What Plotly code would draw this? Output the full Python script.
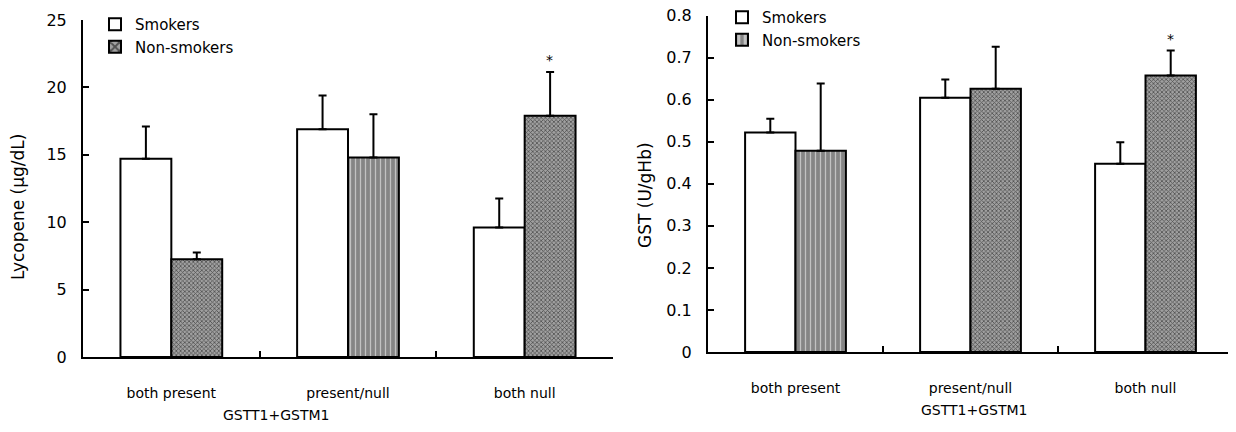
import plotly.graph_objects as go

categories = ["both present", "present/null", "both null"]
series_names = ["Smokers", "Non-smokers"]

lyc_smokers = [14.7, 16.9, 9.6]
lyc_smokers_err = [2.4, 2.5, 2.15]
lyc_non = [7.25, 14.8, 17.9]
lyc_non_err = [0.5, 3.2, 3.25]

gst_smokers = [0.522, 0.605, 0.448]
gst_smokers_err = [0.033, 0.043, 0.051]
gst_non = [0.479, 0.626, 0.658]
gst_non_err = [0.16, 0.10, 0.059]

left_yticks = [0, 5, 10, 15, 20, 25]
right_yticks = [0, 0.1, 0.2, 0.3, 0.4, 0.5, 0.6, 0.7, 0.8]

FONT = "DejaVu Sans, Verdana, sans-serif"
W, H = 1236, 432
OFF = 8  # page body margin offset

fig = go.Figure()

def add_pair(xa, ya, sm, sm_err, ns, ns_err, legend, shapes_ns):
    fig.add_trace(go.Bar(
        x=categories, y=sm, name=series_names[0], xaxis=xa, yaxis=ya,
        marker=dict(color="white", line=dict(color="black", width=2)),
        error_y=dict(type="data", array=sm_err, arrayminus=[0] * len(sm), symmetric=False,
                     color="black", thickness=2, width=4),
        legend=legend, offsetgroup="s",
    ))
    fgs = ["white" if s == "|" else "#000000" for s in shapes_ns]
    bgs = ["#858585" if s == "|" else "#a0a0a0" for s in shapes_ns]
    sizes = [5 if s == "|" else 3 for s in shapes_ns]
    sols = [0.25 if s == "|" else 0.45 for s in shapes_ns]
    fig.add_trace(go.Bar(
        x=categories, y=ns, name=series_names[1], xaxis=xa, yaxis=ya,
        marker=dict(color="#858585", line=dict(color="black", width=2),
                    pattern=dict(shape=shapes_ns, fgcolor=fgs, bgcolor=bgs,
                                 size=sizes, solidity=sols, fillmode="overlay")),
        error_y=dict(type="data", array=ns_err, arrayminus=[0] * len(ns), symmetric=False,
                     color="black", thickness=2, width=4),
        legend=legend, offsetgroup="n",
    ))

add_pair("x", "y", lyc_smokers, lyc_smokers_err, lyc_non, lyc_non_err, "legend", ["x", "|", "x"])
add_pair("x2", "y2", gst_smokers, gst_smokers_err, gst_non, gst_non_err, "legend2", ["|", "x", "x"])

# target pixel geometry (screen), compensated for page offset
lx0, lx1 = 83 - OFF, 613 - OFF
rx0, rx1 = 708 - OFF, 1233 - OFF
ly0, ly1 = 357 - OFF, 20 - OFF
ry0, ry1 = 352 - OFF, 15.7 - OFF

axis_common = dict(showline=True, linecolor="black", linewidth=2, ticks="inside",
                   tickcolor="black", tickwidth=2, showgrid=False, zeroline=False,
                   ticklen=6, automargin=False, ticklabeloverflow="allow")
xfont = dict(family=FONT, size=14, color="black")
yfont = dict(family=FONT, size=16, color="black")

fig.update_layout(
    width=W, height=H, margin=dict(l=0, r=0, t=0, b=0, autoexpand=False),
    paper_bgcolor="white", plot_bgcolor="white",
    barmode="group", bargap=0.424, bargroupgap=0,
    font=dict(family=FONT, size=16, color="black"),
    xaxis=dict(domain=[lx0 / W, lx1 / W], anchor="y", type="category",
               tickson="boundaries", tickfont=xfont, ticklabelstandoff=22, **axis_common),
    yaxis=dict(domain=[(H - ly0) / H, (H - ly1) / H], anchor="x", range=[0, 25],
               tickvals=left_yticks, tickfont=yfont, ticklabelstandoff=11, **axis_common),
    xaxis2=dict(domain=[rx0 / W, rx1 / W], anchor="y2", type="category",
                tickson="boundaries", tickfont=xfont, ticklabelstandoff=22, **axis_common),
    yaxis2=dict(domain=[(H - ry0) / H, (H - ry1) / H], anchor="x2", range=[0, 0.8],
                tickvals=right_yticks, tickfont=yfont, ticklabelstandoff=11, **axis_common),
    legend=dict(xref="paper", yref="paper", x=(lx0 + 12) / W, y=1.0,
                xanchor="left", yanchor="top",
                bgcolor="rgba(0,0,0,0)", font=dict(family=FONT, size=15),
                itemwidth=30, tracegroupgap=0),
    legend2=dict(xref="paper", yref="paper", x=(rx0 + 14) / W, y=1.0 + 7 / H,
                 xanchor="left", yanchor="top",
                 bgcolor="rgba(0,0,0,0)", font=dict(family=FONT, size=15),
                 itemwidth=30, tracegroupgap=0),
)

def ann(text, x, y, size, angle=0):
    return dict(text=text, xref="paper", yref="paper", x=(x - OFF) / W, y=(H - (y - OFF)) / H,
                xanchor="center", yanchor="middle", textangle=angle, showarrow=False,
                font=dict(family=FONT, size=size))

annotations = [
    ann("Lycopene (μg/dL)", 18, 207, 17, -90),
    ann("GST (U/gHb)", 645, 195, 17, -90),
    ann("GSTT1+GSTM1", 276, 415, 14),
    ann("GSTT1+GSTM1", 975, 410, 14),
    dict(text="*", xref="x", yref="y", x=categories[2], y=lyc_non[2] + lyc_non_err[2],
         xshift=25, yshift=12, showarrow=False, font=dict(family=FONT, size=14)),
    dict(text="*", xref="x2", yref="y2", x=categories[2], y=gst_non[2] + gst_non_err[2],
         xshift=25, yshift=12, showarrow=False, font=dict(family=FONT, size=14)),
]
fig.update_layout(annotations=annotations)

fig.write_html("out.html")
